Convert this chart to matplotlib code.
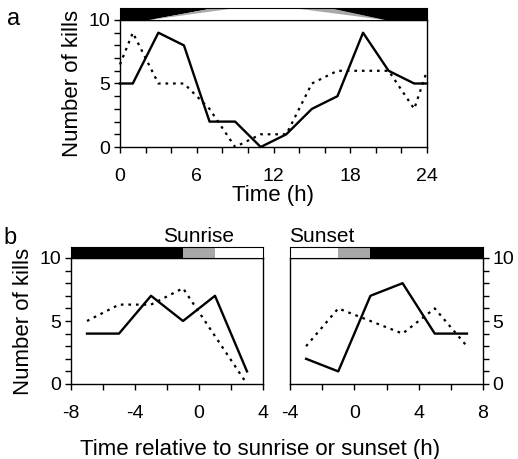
import numpy as np
import matplotlib.pyplot as plt
from matplotlib.patches import Polygon, Rectangle

plt.rcParams['font.family'] = ['Liberation Sans', 'DejaVu Sans']
plt.rcParams['axes.unicode_minus'] = False

# Panel a: kills per time of day
hours = [0, 1, 3, 5, 7, 9, 11, 13, 15, 17, 19, 21, 23, 24]
kills_solid = [5, 5, 9, 8, 2, 2, 0, 1, 3, 4, 9, 6, 5, 5]
kills_dotted = [6.5, 9, 5, 5, 3, 0, 1, 1, 5, 6, 6, 6, 3, 6]

# Panel b: kills relative to sunrise / sunset
rel_sunrise = [-7, -5, -3, -1, 1, 3]
sunrise_solid = [4, 4, 7, 5, 7, 1]
sunrise_dotted = [5, 6.3, 6.3, 7.6, 3.8, 0]
rel_sunset = [-3, -1, 1, 3, 5, 7]
sunset_solid = [2, 1, 7, 8, 4, 4]
sunset_dotted = [3, 6, 5, 4, 6, 3]

# light bars: (start, end, colour)
sunrise_bar = [(-8, -1, 'black'), (-1, 1, '#a8a8a8'), (1, 4, 'white')]
sunset_bar = [(-4, -1, 'white'), (-1, 1, '#a8a8a8'), (1, 8, 'black')]

W, H = 518, 459
fig = plt.figure(figsize=(W / 100, H / 100), dpi=100)

def ax_px(x0, x1, y_top, y_bot):
    return fig.add_axes([x0 / W, 1 - y_bot / H, (x1 - x0) / W, (y_bot - y_top) / H])

dot = (0, (1.2, 2.2))
tick_kw = dict(direction='out', labelsize=14, width=1)

def style(ax, xlim, xmajor, xminor, right=False):
    ax.set_xlim(*xlim)
    ax.set_ylim(0, 10)
    ax.set_xticks(xmajor)
    ax.set_xticks(xminor, minor=True)
    ax.set_yticks([0, 5, 10])
    ax.set_yticks(np.arange(0, 11, 1), minor=True)
    ax.tick_params(axis='x', which='both', length=4, pad=11, **tick_kw)
    if right:
        ax.yaxis.tick_right()
    ax.tick_params(axis='y', which='both', length=4, pad=3, **tick_kw)
    for s in ax.spines.values():
        s.set_linewidth(1)

# ---- panel a ----
axa = ax_px(120, 427, 20, 147)
axa.plot(hours, kills_solid, color='black', lw=1.7, clip_on=False)
axa.plot(hours, kills_dotted, color='black', lw=1.6, ls=dot, clip_on=False)
style(axa, (0, 24), [0, 6, 12, 18, 24], np.arange(0, 25, 2))
axa.set_xlabel('Time (h)', fontsize=16, labelpad=0)
axa.set_ylabel('Number of kills', fontsize=16, labelpad=4)

bara = ax_px(120, 427, 8, 20)
bara.set_xlim(0, 24)
bara.set_ylim(0, 1)
bara.set_xticks([])
bara.set_yticks([])
bara.add_patch(Polygon([(0, 0), (0, 1), (7.4, 1), (2.3, 0)], color='black', lw=0))
bara.add_patch(Polygon([(2.3, 0), (7.4, 1), (9.1, 1)], color='#a8a8a8', lw=0))
bara.add_patch(Polygon([(13.5, 1), (16.3, 1), (20.7, 0)], color='#a8a8a8', lw=0))
bara.add_patch(Polygon([(16.3, 1), (24, 1), (24, 0), (20.7, 0)], color='black', lw=0))

# ---- panel b ----
axl = ax_px(71, 263, 258, 384)
axl.plot(rel_sunrise, sunrise_solid, color='black', lw=1.7, clip_on=False)
axl.plot(rel_sunrise, sunrise_dotted, color='black', lw=1.6, ls=dot, clip_on=False)
style(axl, (-8, 4), [-8, -4, 0, 4], np.arange(-8, 5, 2))
axl.set_ylabel('Number of kills', fontsize=16, labelpad=4)

axr = ax_px(290, 483, 258, 384)
axr.plot(rel_sunset, sunset_solid, color='black', lw=1.7, clip_on=False)
axr.plot(rel_sunset, sunset_dotted, color='black', lw=1.6, ls=dot, clip_on=False)
style(axr, (-4, 8), [-4, 0, 4, 8], np.arange(-4, 9, 2), right=True)

for (x0, x1, lim, segs) in [(71, 263, (-8, 4), sunrise_bar), (290, 483, (-4, 8), sunset_bar)]:
    b = ax_px(x0, x1, 247, 258)
    b.set_xlim(*lim)
    b.set_ylim(0, 1)
    b.set_xticks([])
    b.set_yticks([])
    for s0, s1, c in segs:
        b.add_patch(Rectangle((s0, 0), s1 - s0, 1, color=c, lw=0))

fig.text(199 / W, 1 - 236 / H, 'Sunrise', fontsize=15, ha='center', va='center')
fig.text(322 / W, 1 - 236 / H, 'Sunset', fontsize=15, ha='center', va='center')
fig.text(260 / W, 1 - 450 / H, 'Time relative to sunrise or sunset (h)', fontsize=16,
         ha='center', va='center')
fig.text(7 / W, 1 - 19 / H, 'a', fontsize=17, ha='left', va='center')
fig.text(3 / W, 1 - 238 / H, 'b', fontsize=17, ha='left', va='center')

fig.savefig('out.png', dpi=100)
